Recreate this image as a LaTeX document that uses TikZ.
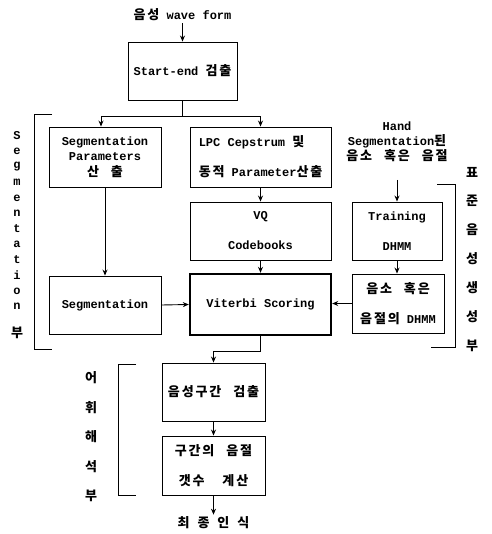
\documentclass[tikz,border=0pt]{standalone}
\usepackage{fontspec}
\setmainfont{Liberation Mono}
\newfontfamily\kr[LetterSpace=14,WordSpace=2.5]{Noto Sans CJK KR}
\newcommand\K[1]{{\kr\bfseries\fontsize{13}{14}\selectfont #1}}
\usetikzlibrary{arrows.meta}
\begin{document}
\begin{tikzpicture}[x=1pt,y=-1pt,
  every node/.style={font=\fontsize{12}{14}\selectfont\bfseries},
  box/.style={draw, line width=0.9pt, inner sep=0pt, align=center},
  two/.style={font=\fontsize{12}{30}\selectfont\bfseries},
  arr/.style={-{Stealth[length=6pt,width=5pt]}, line width=0.9pt},
  ln/.style={line width=0.9pt},
  brk/.style={line width=1pt},
  vl/.style={inner sep=0pt, anchor=center}]
\useasboundingbox (0,0) rectangle (491,534);

% title
\node[inner sep=2pt] (title) at (182.5,15) {\K{음성} wave form};

% boxes
\node[box, minimum width=109pt, minimum height=58pt] (start) at (182.5,71) {Start-end \K{검출}};
\node[box, minimum width=112pt, minimum height=60pt, font=\fontsize{12}{15.5}\selectfont\bfseries] (segp) at (105,157) {Segmentation\\Parameters\\\K{산 출}};
\node[box, two, align=left, minimum width=141pt, minimum height=60pt] (lpc) at (260.5,157) {LPC Cepstrum \K{및}\\\K{동적} Parameter\K{산출}};
\node[box, two, minimum width=141pt, minimum height=58pt] (vq) at (260.5,231) {VQ\\Codebooks};
\node[box, two, minimum width=90pt, minimum height=58pt] (train) at (397,231) {Training\\DHMM};
\node[box, minimum width=112pt, minimum height=58pt] (seg) at (105,305) {Segmentation};
\node[box, line width=2.4pt, minimum width=141pt, minimum height=61pt] (vit) at (260.5,304.5) {Viterbi Scoring};
\node[box, two, minimum width=92pt, minimum height=59pt] (dhmm) at (398,303.5) {\K{음소 혹은}\\\K{음절의} DHMM};
\node[box, minimum width=103pt, minimum height=58pt] (vox) at (213.5,392) {\K{음성구간 검출}};
\node[box, two, minimum width=103pt, minimum height=59pt] (cnt) at (213.5,465.5) {\K{구간의 음절}\\\K{갯수}\hspace{18pt}\K{계산}};

% hand segmentation label
\node[align=center, font=\fontsize{12}{15}\selectfont\bfseries, inner sep=0pt] (hand) at (397,142) {Hand\\Segmentation\K{된}\\\K{음소 혹은 음절}};
\coordinate (hin) at (397,180);

% final
\node[inner sep=2pt] (final) at (213.5,523) {\K{최}\hspace{8pt}\K{종}\hspace{8pt}\K{인}\hspace{8pt}\K{식}};

% connectors
\draw[arr] (title) -- (start);
\coordinate (j1) at (182.5,116);
\draw[ln] (start.south) -- (j1);
\draw[arr] (j1) -| ([xshift=-4pt]segp.north);
\draw[arr] (j1) -| (lpc.north);
\draw[arr] (segp.south) -- (seg.north);
\draw[arr] (lpc.south) -- (vq.north);
\draw[arr] (vq.south) -- (vit.north);
\draw[arr] (hin) -- (train.north);
\draw[arr] (train.south) -- ([xshift=-1pt]dhmm.north);
\draw[arr] (seg.east) -- (vit.west);
\draw[arr] (dhmm.west) -- (vit.east |- dhmm.west);
\draw[arr] (vit.south) -- ++(0,15) -| (vox.north);
\draw[arr] (vox.south) -- (cnt.north);
\draw[arr] (cnt.south) -- (final.north);

% brackets
\draw[brk] (52,115) -- (34,115) -- (34,349) -- (52,349);
\draw[brk] (437,185) -- (455,185) -- (455,347) -- (431,347);
\draw[brk] (136,364) -- (118,364) -- (118,495) -- (136,495);

% vertical labels
\foreach \c [count=\i] in {S,e,g,m,e,n,t,a,t,i,o,n}
  \node[vl] (sl\i) at (17,{136+15.5*(\i-1)}) {\c};
\node[vl] (slb) at (17,333) {\K{부}};
\foreach \c [count=\i] in {표,준,음,성,생,성,부}
  \node[vl] (rl\i) at (472,{172+29*(\i-1)}) {\K{\c}};
\foreach \c [count=\i] in {어,휘,해,석,부}
  \node[vl] (ll\i) at (91,{378+29.5*(\i-1)}) {\K{\c}};
\end{tikzpicture}
\end{document}
